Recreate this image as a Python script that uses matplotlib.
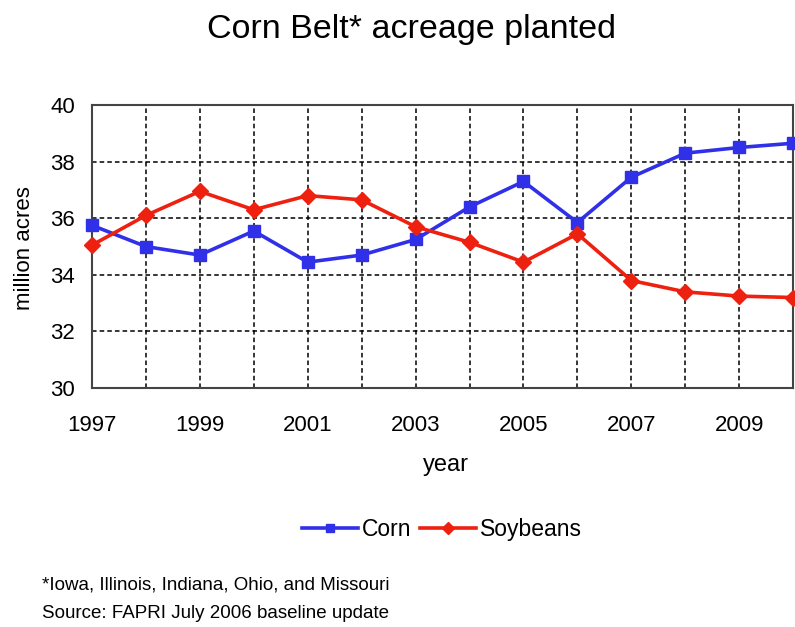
import matplotlib
matplotlib.use("Agg")
import matplotlib.pyplot as plt

plt.rcParams['font.family'] = ['Liberation Sans', 'DejaVu Sans']

years = list(range(1997, 2011))
corn = [35.75, 35.0, 34.7, 35.55, 34.45, 34.7, 35.25, 36.4, 37.3, 35.85, 37.45, 38.3, 38.5, 38.65]
soybeans = [35.05, 36.1, 36.95, 36.3, 36.8, 36.65, 35.7, 35.15, 34.45, 35.45, 33.8, 33.4, 33.25, 33.2]
x_ticks = [1997, 1999, 2001, 2003, 2005, 2007, 2009]
y_ticks = [30, 32, 34, 36, 38, 40]

fig = plt.figure(figsize=(7.95, 6.27), dpi=100)
ax = fig.add_axes([0.1157, 0.381, 0.882, 0.4515])

ax.plot(years, corn, color='#3030e8', lw=2.6, marker='s', markersize=9,
        label='Corn', clip_on=False, zorder=3)
ax.plot(years, soybeans, color='#ee2010', lw=2.6, marker='D', markersize=8.5,
        label='Soybeans', clip_on=False, zorder=3)

ax.set_xlim(1997, 2010)
ax.set_ylim(30, 40)
ax.set_xticks(years, minor=True)
ax.set_xticks(x_ticks)
ax.set_yticks(y_ticks)
ax.tick_params(which='both', length=0, labelsize=16)
ax.tick_params(axis='x', pad=19)
ax.tick_params(axis='y', pad=12)
ax.grid(True, which='both', color='black', linestyle=(0, (3, 2)), linewidth=1.1)
for s in ax.spines.values():
    s.set_color('#444444')
    s.set_linewidth(1.5)

fig.text(0.561, 0.258, 'year', ha='center', va='center', fontsize=17)
fig.text(0.031, 0.605, 'million acres', ha='center', va='center',
         rotation=90, fontsize=16)
fig.text(0.518, 0.953, 'Corn Belt* acreage planted', ha='center', va='center',
         fontsize=24.5)

fig.legend(loc='center', bbox_to_anchor=(0.556, 0.155), ncol=2, frameon=False,
           fontsize=16.5, handlelength=2.45, handletextpad=0.17, columnspacing=0.35,
           markerscale=0.7)

fig.text(0.053, 0.067, '*Iowa, Illinois, Indiana, Ohio, and Missouri', fontsize=13.5, va='center')
fig.text(0.053, 0.022, 'Source: FAPRI July 2006 baseline update', fontsize=13.5, va='center')

fig.savefig('out.png', dpi=100)
